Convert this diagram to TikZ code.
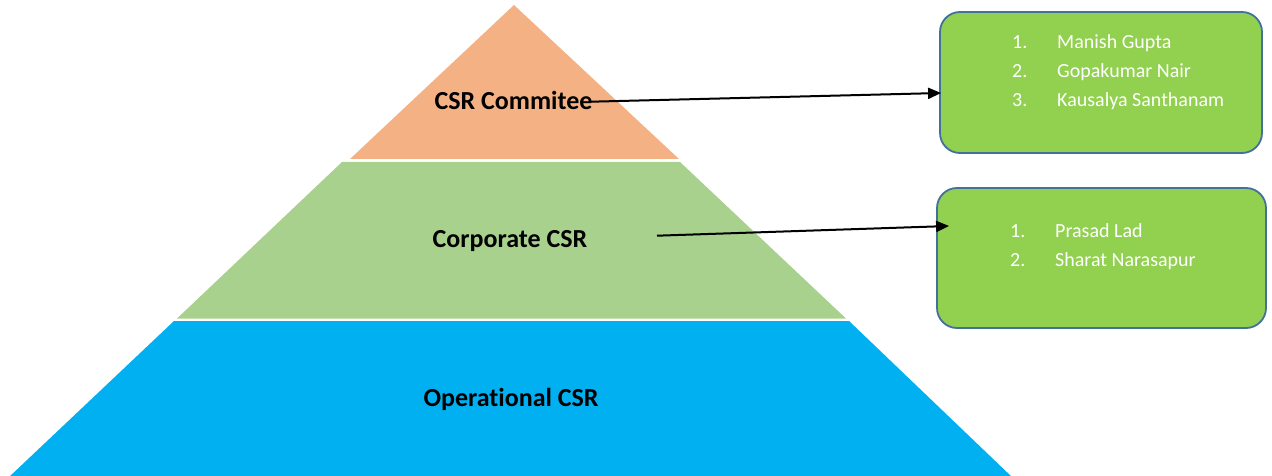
\documentclass[tikz,border=0pt]{standalone}
\usepackage{fontspec}
\setmainfont{Carlito}[Ligatures=NoCommon]
\usetikzlibrary{arrows.meta}
\definecolor{tierA}{HTML}{F4B183}
\definecolor{tierB}{HTML}{A9D18E}
\definecolor{tierC}{HTML}{00B0F0}
\definecolor{boxfill}{HTML}{92D050}
\definecolor{boxline}{HTML}{41719C}
\tikzset{
  tier/.style={draw=white, line width=1pt},
  lbl/.style={font=\fontsize{26}{30}\selectfont\bfseries, anchor=base, inner sep=0pt},
  listbox/.style={draw=boxline, fill=boxfill, line width=1.8pt, rounded corners=20pt},
  item/.style={font=\fontsize{20}{24}\selectfont, text=white, anchor=base west, inner sep=0pt},
  arr/.style={line width=2pt, -{Triangle[length=13pt,width=11pt]}}
}
\begin{document}
\begin{tikzpicture}[x=1pt,y=-1pt]
\useasboundingbox (0,0) rectangle (1272,476);
% pyramid tiers
\fill[tierC] (174,321) -- (849,321) -- (1013,478) -- (8,478) -- cycle;
\fill[tierB] (342,162) -- (680,162) -- (846,318.5) -- (177,318.5) -- cycle;
\fill[tierA] (514,5) -- (679,159) -- (350,159) -- cycle;
% labels
\node[lbl] (lc) at (513.5,110) {CSR Commitee};
\node[lbl] (lb) at (510,247.5) {Corporate CSR};
\node[lbl] (la) at (511,406.5) {Operational CSR};
% boxes
\node[listbox, minimum width=322pt, minimum height=141pt, inner sep=0pt] (box1) at (1101,82.5) {};
\node[listbox, minimum width=329pt, minimum height=140pt, inner sep=0pt] (box2) at (1101.5,258) {};
% list 1
\node[item] (n11) at (1012,49) {1.};
\node[item] (t11) at (1057,49) {Manish Gupta};
\node[item] (n12) at (1012,77.7) {2.};
\node[item] (t12) at (1057,77.7) {Gopakumar Nair};
\node[item] (n13) at (1012,106.5) {3.};
\node[item] (t13) at (1057,106.5) {Kausalya Santhanam};
% list 2
\node[item] (n21) at (1010,237.7) {1.};
\node[item] (t21) at (1055,237.7) {Prasad Lad};
\node[item] (n22) at (1010,266.3) {2.};
\node[item] (t22) at (1055,266.3) {Sharat Narasapur};
% arrows
\coordinate (s1) at (591,101.7);
\coordinate (s2) at (657,235.7);
\draw[arr] (s1) -- ([xshift=2pt,yshift=-10.5pt]box1.west);
\draw[arr] (s2) -- ([xshift=13pt,yshift=32pt]box2.west);
\end{tikzpicture}
\end{document}
